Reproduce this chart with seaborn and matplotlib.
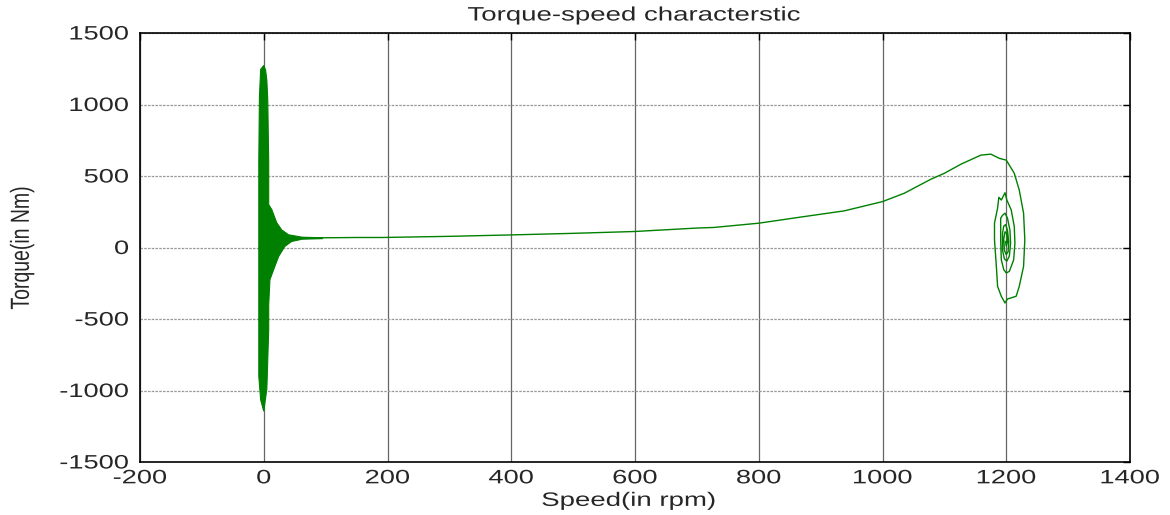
import numpy as np
import pandas as pd
import seaborn as sns
import matplotlib
matplotlib.use("Agg")
import matplotlib.pyplot as plt
from matplotlib.patheffects import AbstractPathEffect
from matplotlib.transforms import Affine2D

# start-up transient at zero speed: outline of the solid green burst (speed rpm, torque Nm)
blob_speed = [0, -5, -8, -8, -8, -7, -5, 0, 3, 5, 6.5, 8, 8, 13, 21, 29, 40, 62, 95,
              95, 62, 45, 34, 24, 16, 10, 8, 8, 5, 0]
blob_torque = [-1145, -1065, -900, -300, 600, 1050, 1245, 1273, 1240, 1170, 1030, 600, 300,
               265, 173, 123, 89, 72, 68,
               62, 58, 42, 7, -63, -155, -225, -400, -575, -990, -1145]

# acceleration curve and settling spiral around synchronous speed
speed = [60, 100, 150, 191, 300, 400, 500, 600, 700, 727, 800, 873, 938, 1000, 1035, 1078,
         1100, 1127, 1159, 1175, 1189, 1200, 1213, 1221, 1228, 1230, 1228, 1221, 1216, 1202,
         1198, 1192, 1186, 1184, 1181, 1181, 1186, 1188, 1192, 1198, 1201, 1208, 1213, 1214,
         1212, 1205, 1200, 1196, 1192, 1191, 1191, 1194, 1198, 1202, 1206, 1207, 1205, 1201,
         1197, 1194, 1194, 1196, 1199, 1202, 1204, 1203, 1200, 1197, 1196, 1198, 1201, 1202,
         1200, 1199, 1200]
torque = [68, 68, 70, 70, 78, 88, 99, 112, 136, 140, 170, 216, 256, 321, 379, 477,
          519, 583, 646, 653, 623, 611, 519, 402, 240, 54, -132, -272, -341, -360,
          -388, -341, -272, -132, 54, 170, 275, 351, 332, 383, 332, 263, 146, 31,
          -86, -167, -178, -155, -86, 54, 205, 225, 240, 205, 120, 30, -60, -95,
          -80, -20, 100, 150, 160, 120, 40, -30, -50, -20, 60, 110, 95, 40,
          10, 40, 45]

x_ticks = [-200, 0, 200, 400, 600, 800, 1000, 1200, 1400]
y_ticks = [-1500, -1000, -500, 0, 500, 1000, 1500]


class Widen(AbstractPathEffect):
    # stretch text glyphs sideways like the resized original
    def __init__(self, sx=1.0, sy=1.0, anchor='center'):
        super().__init__()
        self.sx, self.sy, self.anchor = sx, sy, anchor

    def draw_path(self, renderer, gc, tpath, affine, rgbFace=None):
        ext = tpath.get_extents()
        if self.anchor == 'right':
            cx = ext.x1
        elif self.anchor == 'left':
            cx = ext.x0
        else:
            cx = (ext.x0 + ext.x1) / 2
        cy = (ext.y0 + ext.y1) / 2
        local = Affine2D().translate(-cx, -cy).scale(self.sx, self.sy).translate(cx, cy)
        renderer.draw_path(gc, tpath, local + affine, rgbFace)


sns.set_style("white")
plt.rcParams['font.family'] = ['Liberation Sans', 'DejaVu Sans']
plt.rcParams['axes.unicode_minus'] = False

green = '#008000'
df = pd.DataFrame({'Speed': speed, 'Torque': torque})

fig = plt.figure(figsize=(11.7, 5.15), dpi=100)
ax = fig.add_axes([140/1170, 53/515, 990/1170, 429/515])

ax.fill(blob_speed, blob_torque, color=green, lw=0.8, zorder=3)
sns.lineplot(data=df, x='Speed', y='Torque', sort=False, estimator=None,
             color=green, lw=1.0, ax=ax, zorder=3)

ax.set_xlim(-200, 1400)
ax.set_ylim(-1500, 1500)
ax.set_xticks(x_ticks)
ax.set_yticks(y_ticks)
ax.xaxis.grid(True, color='0.4', lw=0.9, ls='-')
ax.yaxis.grid(True, color='0.6', lw=0.9, ls=(0, (2, 1)))
ax.set_axisbelow(True)
ax.tick_params(direction='in', top=True, right=True, length=5, width=1,
               color='black', labelsize=14, pad=8)
ax.tick_params(axis='x', pad=6)
for s in ax.spines.values():
    s.set_color('black')
    s.set_linewidth(1.2)

ax.set_title('Torque-speed characterstic', fontsize=14, pad=9)
ax.set_xlabel('Speed(in rpm)', fontsize=14)
ax.set_ylabel('Torque(in Nm)', fontsize=14)
ax.xaxis.set_label_coords(0.494, -0.072)
ax.yaxis.set_label_coords(-0.11, 0.5)

for lab in ax.get_yticklabels():
    lab.set_path_effects([Widen(1.4, 1.0, 'right')])
for lab in ax.get_xticklabels():
    lab.set_path_effects([Widen(1.4, 1.0, 'center')])
ax.title.set_path_effects([Widen(1.42, 1.0)])
ax.xaxis.label.set_path_effects([Widen(1.42, 1.0)])
ax.yaxis.label.set_path_effects([Widen(1.0, 1.35)])

fig.savefig('out.png', dpi=100)
